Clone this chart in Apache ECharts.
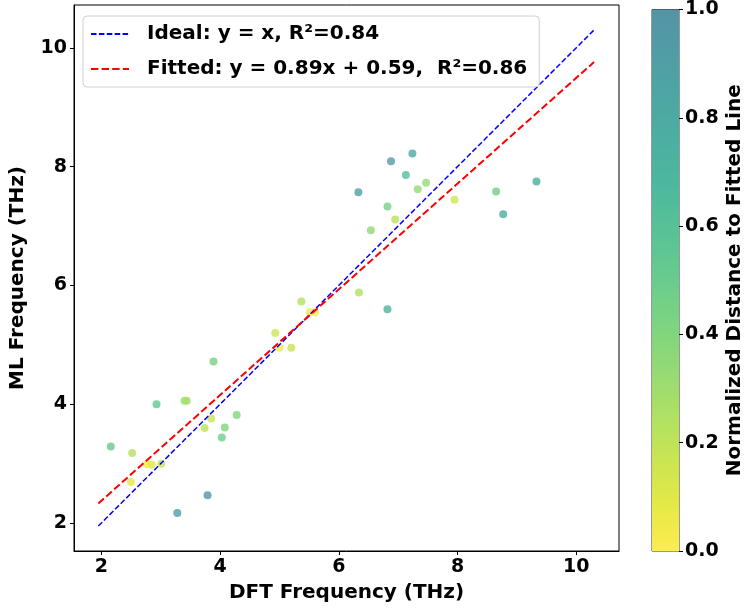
<!DOCTYPE html>
<html><head><meta charset="utf-8">
<script src="https://cdn.jsdelivr.net/npm/echarts@6/dist/echarts.min.js"></script>
<style>html,body{margin:0;padding:0;background:#fff}#c{width:746px;height:609px}</style>
</head><body><div id="c"></div>
<script>
// ---- data ----
const dftFreq = [2.16, 2.52, 2.50, 2.77, 2.85, 3.01, 2.93, 3.40, 3.44, 3.28, 3.79, 3.89, 3.85, 3.74, 4.28, 4.08, 4.03, 4.93, 5.00, 5.20, 6.33, 6.54, 6.34, 5.37, 5.51, 5.60, 7.24, 6.88, 7.13, 7.47, 7.33, 6.82, 6.95, 7.95, 8.65, 9.33, 8.77, 6.82];
const mlFreq  = [3.29, 3.18, 2.69, 2.99, 2.98, 3.00, 4.00, 4.06, 4.06, 2.17, 2.47, 4.72, 3.76, 3.60, 3.82, 3.61, 3.44, 5.20, 4.95, 4.95, 7.57, 6.93, 5.88, 5.73, 5.55, 5.55, 8.22, 8.09, 7.86, 7.73, 7.62, 7.33, 7.11, 7.44, 7.58, 7.75, 7.20, 5.60];
const normDist = [0.52, 0.23, 0.08, 0.04, 0.10, 0.18, 0.54, 0.29, 0.29, 0.90, 1.00, 0.45, 0.17, 0.21, 0.39, 0.41, 0.49, 0.15, 0.06, 0.18, 0.91, 0.35, 0.24, 0.24, 0.04, 0.02, 0.80, 0.93, 0.62, 0.33, 0.34, 0.45, 0.22, 0.15, 0.48, 0.77, 0.81, 0.71];
const lineX   = [1.95, 10.3];
const idealY  = [1.95, 10.3];
const fittedY = [2.33, 9.76];
const xTicks = [2, 4, 6, 8, 10];
const yTicks = [2, 4, 6, 8, 10];
const legendNames = ['Ideal: y = x, R²=0.84', 'Fitted: y = 0.89x + 0.59,  R²=0.86'];
const xName = 'DFT Frequency (THz)';
const yName = 'ML Frequency (THz)';
const cbName = 'Normalized Distance to Fitted Line';
const colorStops = ['#fdec51','#e5e946','#cae551','#afe163','#95da74','#7ed481','#69cc8d','#59c396','#4eb99d','#4bb0a1','#4da7a3','#519da5','#5593a5'];

const FF = 'DejaVu Sans';
const chart = echarts.init(document.getElementById('c'), null, {renderer: 'canvas'});

const pts = dftFreq.map((x, i) => [x, mlFreq[i], normDist[i]]);
const idealData = lineX.map((x, i) => [x, idealY[i]]);
const fitData = lineX.map((x, i) => [x, fittedY[i]]);
const gradStops = colorStops.map((c, i) => ({offset: i / (colorStops.length - 1), color: c}));

const lblStyle = {fontFamily: FF, fontWeight: 'bold', fontSize: 19, color: '#000'};
const nameStyle = {fontFamily: FF, fontWeight: 'bold', fontSize: 20, color: '#000'};

chart.setOption({
  animation: false,
  backgroundColor: '#fff',
  grid: [
    {left: 72, right: 127, top: 5, bottom: 58, show: true, borderColor: '#000', borderWidth: 1},
    {left: 652, right: 66, top: 5, bottom: 58, show: true, borderColor: '#333', borderWidth: 1}
  ],
  xAxis: [
    {type: 'value', gridIndex: 0, min: 1.54, max: 10.72,
     name: xName, nameLocation: 'middle', nameGap: 32, nameTextStyle: nameStyle,
     axisLine: {show: true, lineStyle: {color: '#000', width: 1}},
     axisTick: {show: true, length: 4, lineStyle: {color: '#000'}, customValues: xTicks},
     axisLabel: Object.assign({margin: 7, customValues: xTicks}, lblStyle),
     splitLine: {show: false}},
    {type: 'category', gridIndex: 1, data: [''],
     axisLine: {show: false}, axisTick: {show: false}, axisLabel: {show: false}, splitLine: {show: false}}
  ],
  yAxis: [
    {type: 'value', gridIndex: 0, min: 1.53, max: 10.72,
     name: yName, nameLocation: 'middle', nameGap: 46, nameRotate: 90, nameTextStyle: nameStyle,
     axisLine: {show: true, lineStyle: {color: '#000', width: 1}},
     axisTick: {show: true, length: 4, lineStyle: {color: '#000'}, customValues: yTicks},
     axisLabel: Object.assign({margin: 7, customValues: yTicks}, lblStyle),
     splitLine: {show: false}},
    {type: 'value', gridIndex: 1, position: 'right', min: 0, max: 1, interval: 0.2,
     name: cbName, nameLocation: 'middle', nameGap: 46, nameRotate: 90, nameTextStyle: nameStyle,
     axisLine: {show: false},
     axisTick: {show: true, length: 4, lineStyle: {color: '#000'}},
     axisLabel: Object.assign({margin: 6, formatter: v => v.toFixed(1)}, lblStyle),
     splitLine: {show: false}}
  ],
  visualMap: {
    type: 'continuous', show: false, seriesIndex: 0, dimension: 2, min: 0, max: 1,
    inRange: {color: colorStops}
  },
  legend: {
    data: legendNames, orient: 'vertical', left: 83, top: 16,
    itemWidth: 38, itemHeight: 14, itemGap: 15,
    padding: [8, 12, 8, 7],
    itemStyle: {opacity: 0},
    backgroundColor: '#fff', borderColor: '#d0d0d0', borderWidth: 1, borderRadius: 4,
    textStyle: {fontFamily: FF, fontWeight: 'bold', fontSize: 20, color: '#000', padding: [0, 0, 0, 13]}
  },
  series: [
    {type: 'scatter', name: 'points', xAxisIndex: 0, yAxisIndex: 0, data: pts, symbolSize: 8, z: 2},
    {type: 'line', name: legendNames[0], xAxisIndex: 0, yAxisIndex: 0, data: idealData, symbol: 'none', z: 3,
     lineStyle: {color: '#0000ff', width: 1.5, type: [5.5, 2.4]}, itemStyle: {color: '#0000ff'}},
    {type: 'line', name: legendNames[1], xAxisIndex: 0, yAxisIndex: 0, data: fitData, symbol: 'none', z: 3,
     lineStyle: {color: '#ff0000', width: 2, type: [7.4, 3.2]}, itemStyle: {color: '#ff0000'}},
    {type: 'bar', xAxisIndex: 1, yAxisIndex: 1, data: [1], barWidth: '100%', silent: true,
     itemStyle: {color: new echarts.graphic.LinearGradient(0, 1, 0, 0, gradStops)}}
  ]
});
</script></body></html>
